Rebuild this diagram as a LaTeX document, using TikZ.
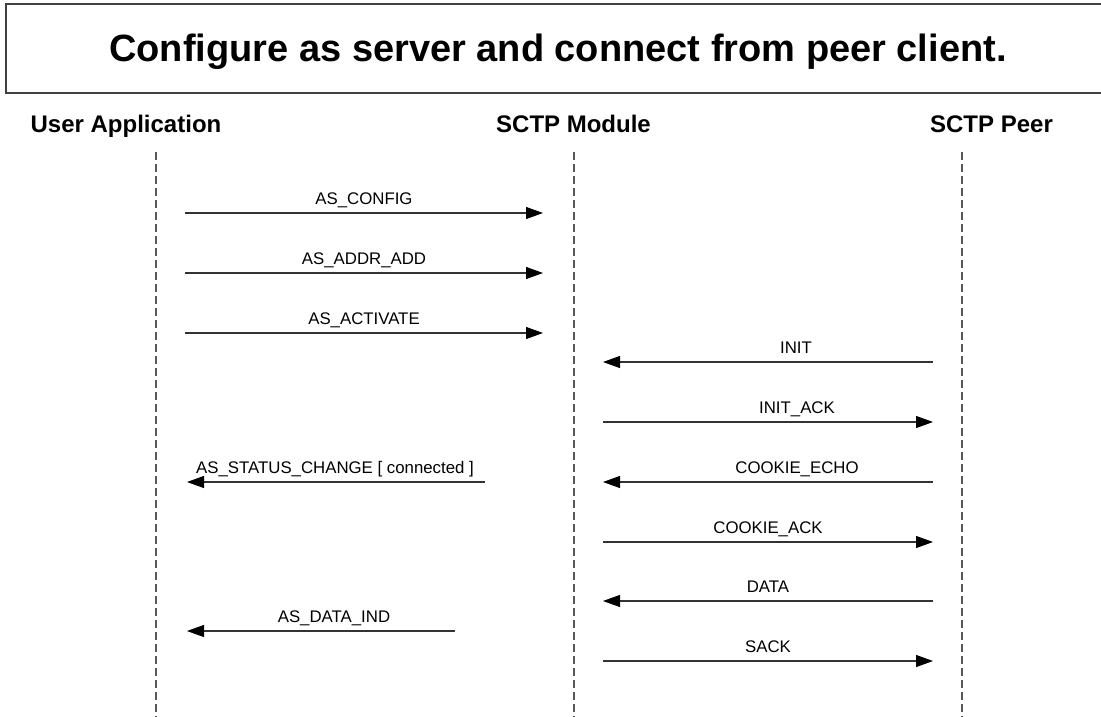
\documentclass[tikz,border=0pt]{standalone}
\usepackage{fontspec}
\setmainfont{Liberation Sans}
\usetikzlibrary{arrows.meta}

\tikzset{
  lifeline/.style={draw=black!65, line width=1.2pt, dash pattern=on 8pt off 4pt},
  msg/.style={draw=black!80, line width=1.1pt, -{Triangle[length=17pt,width=12pt,color=black]}},
  msglabel/.style={font=\fontsize{16.8}{19}\selectfont, anchor=base, inner sep=0pt},
  header/.style={font=\bfseries\fontsize{24}{28}\selectfont, anchor=base, inner sep=0pt},
}

\begin{document}
\begin{tikzpicture}[x=1pt,y=-1pt]
      \useasboundingbox (0,0) rectangle (1101,717);
      \fill[white] (0,0) rectangle (1101,717);

      % title box
      \draw[black!75, line width=1.3pt] (6,4) rectangle (1120,93);
      \node[anchor=base, inner sep=0pt, font=\bfseries\fontsize{38}{44}\selectfont] (title) at (558,62) {Configure as server and connect from peer client.};

      % parties and their lifelines
      \node[header] (user) at (126,132) {User Application};
      \node[header] (module) at (573.5,132) {SCTP Module};
      \node[header] (peer) at (991.5,132) {SCTP Peer};
      \coordinate (userTop) at (156,152);   \coordinate (userBot) at (156,717);
      \coordinate (moduleTop) at (574,152); \coordinate (moduleBot) at (574,717);
      \coordinate (peerTop) at (962,152);   \coordinate (peerBot) at (962,717);
      \draw[lifeline] (userTop) -- (userBot);
      \draw[lifeline] (moduleTop) -- (moduleBot);
      \draw[lifeline] (peerTop) -- (peerBot);

      % messages: y / from / to / label x / text
      \foreach \y/\from/\to/\lx/\txt [count=\i] in {
          213/185/543/364/AS\_CONFIG,
          273/185/543/364/AS\_ADDR\_ADD,
          333/185/543/364/AS\_ACTIVATE,
          362/933/603/796/INIT,
          422/603/933/797/INIT\_ACK,
          482/485/187/335/{AS\_STATUS\_CHANGE [ connected ]},
          482/933/603/797/COOKIE\_ECHO,
          542/603/933/768/COOKIE\_ACK,
          601/933/603/768/DATA,
          631/455/187/334/AS\_DATA\_IND,
          661/603/933/768/SACK} {
        \coordinate (msgStart\i) at (\from,\y);
        \coordinate (msgEnd\i) at (\to,\y);
        \draw[msg] (msgStart\i) -- (msgEnd\i);
        \node[msglabel] (msgLabel\i) at (\lx,\y-9) {\txt};
      }
\end{tikzpicture}
\end{document}
